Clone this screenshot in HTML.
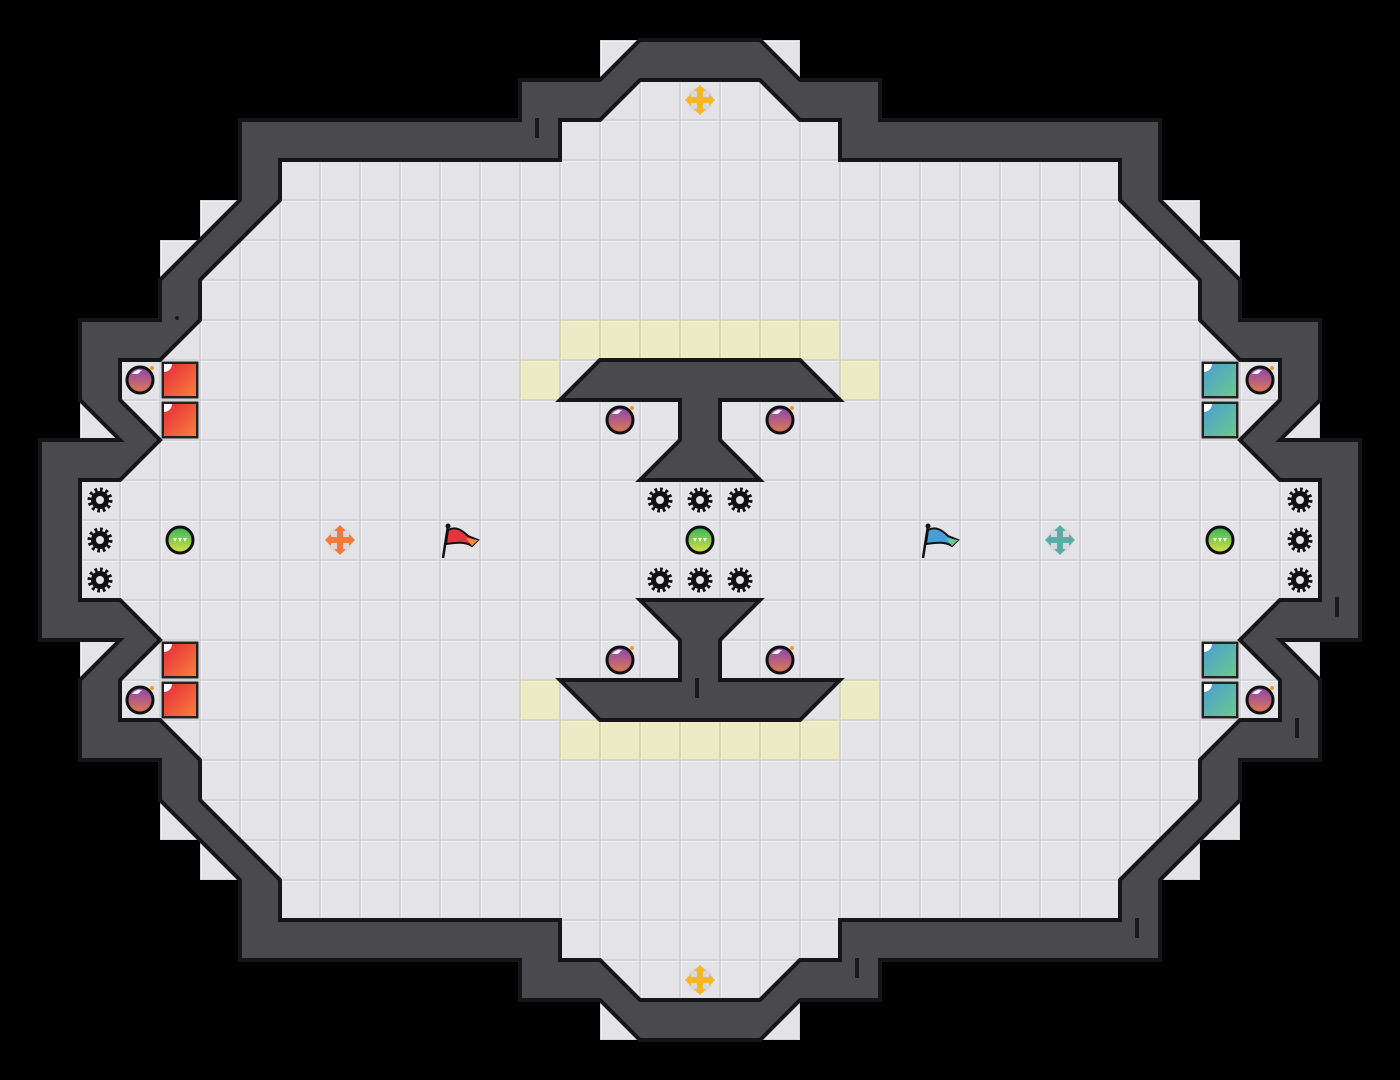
<!DOCTYPE html>
<html><head><meta charset="utf-8"><style>
html,body{margin:0;padding:0;background:#000;width:1400px;height:1080px;overflow:hidden}
svg{display:block}
</style></head><body>
<svg width="1400" height="1080" viewBox="0 0 1400 1080" xmlns="http://www.w3.org/2000/svg">
<defs>
<pattern id="tile" x="0" y="0" width="40" height="40" patternUnits="userSpaceOnUse">
<rect width="40" height="40" fill="#d2d2d7"/>
<rect x="1" y="1" width="38" height="38" fill="#f0f0f3"/>
<rect x="2" y="2" width="37" height="37" fill="#e4e4e8"/>
</pattern>
<pattern id="ytile" x="0" y="0" width="40" height="40" patternUnits="userSpaceOnUse">
<rect width="40" height="40" fill="#d8d6b0"/>
<rect x="1" y="1" width="38" height="38" fill="#f3f2d4"/>
<rect x="2" y="2" width="37" height="37" fill="#ecebc6"/>
</pattern>
<linearGradient id="gRed" x1="0" y1="0" x2="1" y2="1"><stop offset="0" stop-color="#e8283a"/><stop offset="1" stop-color="#f6823a"/></linearGradient>
<linearGradient id="gBlue" x1="0" y1="0" x2="1" y2="1"><stop offset="0" stop-color="#4a9ed6"/><stop offset="1" stop-color="#6cc88a"/></linearGradient>
<linearGradient id="gBomb" x1="0" y1="0" x2="0" y2="1"><stop offset="0" stop-color="#8a45b0"/><stop offset="1" stop-color="#e07a50"/></linearGradient>
<linearGradient id="gGreen" x1="0" y1="0" x2="0" y2="1"><stop offset="0" stop-color="#2cb85a"/><stop offset="1" stop-color="#e0e040"/></linearGradient>
<g id="gear">
<circle r="10" fill="none" stroke="#111" stroke-width="5" stroke-dasharray="2.6 2.6"/>
<circle r="9" fill="#111"/>
<circle r="4" fill="#e4e4e8"/>
</g>
<g id="bomb">
<circle r="13" fill="url(#gBomb)" stroke="#111" stroke-width="3"/>
<path d="M-8,-6 A9,9 0 0 1 2,-10 L-2,-6 Z" fill="#fff" opacity="0.9"/>
<circle cx="12" cy="-12" r="2" fill="#f39a2a"/>
</g>
<g id="ball">
<circle r="13" fill="url(#gGreen)" stroke="#111" stroke-width="3"/>
<path d="M-7,-2 L-3,-2 L-5,2 Z M-2,-2 L2,-2 L0,2 Z M3,-2 L7,-2 L5,2 Z" fill="#fff"/>
</g>
<g id="red">
<rect x="1.5" y="1.5" width="37" height="37" fill="#222"/>
<rect x="4" y="4" width="32" height="32" fill="url(#gRed)"/>
<path d="M4,4 L12,4 A8,8 0 0 1 4,12 Z" fill="#fff"/>
</g>
<g id="blue">
<rect x="1.5" y="1.5" width="37" height="37" fill="#222"/>
<rect x="4" y="4" width="32" height="32" fill="url(#gBlue)"/>
<path d="M4,4 L12,4 A8,8 0 0 1 4,12 Z" fill="#fff"/>
</g>
<g id="cross">
<circle r="13" fill="#d4d4da" opacity="0.8"/>
<path d="M-3,-9 L-3,-3 L-9,-3 L-9,-6 L-15,0 L-9,6 L-9,3 L-3,3 L-3,9 L-6,9 L0,15 L6,9 L3,9 L3,3 L9,3 L9,6 L15,0 L9,-6 L9,-3 L3,-3 L3,-9 L6,-9 L0,-15 L-6,-9 Z"/>
</g>
</defs>

<!-- floor -->
<path fill="url(#tile)" d="M700,40 L760,40 L800,80 L880,80 L880,120 L1160,120 L1160,200 L1240,280 L1240,320 L1320,320 L1320,400 L1280,440 L1360,440 L1360,640 L1280,640 L1320,680 L1320,760 L1240,760 L1240,800 L1160,880 L1160,960 L880,960 L880,1000 L800,1000 L760,1040 L640,1040 L600,1000 L520,1000 L520,960 L240,960 L240,880 L160,800 L160,760 L80,760 L80,680 L120,640 L40,640 L40,440 L120,440 L80,400 L80,320 L160,320 L160,280 L240,200 L240,120 L520,120 L520,80 L600,80 L640,40 Z"/>
<g fill="url(#tile)">
<rect x="600" y="40" width="40" height="40"/><rect x="760" y="40" width="40" height="40"/>
<rect x="600" y="1000" width="40" height="40"/><rect x="760" y="1000" width="40" height="40"/>
<rect x="1160" y="200" width="40" height="40"/><rect x="1200" y="240" width="40" height="40"/><rect x="1280" y="400" width="40" height="40"/>
<rect x="200" y="200" width="40" height="40"/><rect x="160" y="240" width="40" height="40"/><rect x="80" y="400" width="40" height="40"/>
<rect x="1160" y="840" width="40" height="40"/><rect x="1200" y="800" width="40" height="40"/><rect x="1280" y="640" width="40" height="40"/>
<rect x="200" y="840" width="40" height="40"/><rect x="160" y="800" width="40" height="40"/><rect x="80" y="640" width="40" height="40"/>
</g>
<!-- yellow tiles -->
<g fill="url(#ytile)">
<rect x="560" y="320" width="280" height="40"/><rect x="520" y="360" width="40" height="40"/><rect x="840" y="360" width="40" height="40"/>
<rect x="560" y="720" width="280" height="40"/><rect x="520" y="680" width="40" height="40"/><rect x="840" y="680" width="40" height="40"/>
</g>

<!-- walls -->
<path fill="#49494e" stroke="#161618" stroke-width="4" fill-rule="evenodd" stroke-linejoin="miter" d="
M700,40 L760,40 L800,80 L880,80 L880,120 L1160,120 L1160,200 L1240,280 L1240,320 L1320,320 L1320,400 L1280,440 L1360,440 L1360,640 L1280,640 L1320,680 L1320,760 L1240,760 L1240,800 L1160,880 L1160,960 L880,960 L880,1000 L800,1000 L760,1040 L640,1040 L600,1000 L520,1000 L520,960 L240,960 L240,880 L160,800 L160,760 L80,760 L80,680 L120,640 L40,640 L40,440 L120,440 L80,400 L80,320 L160,320 L160,280 L240,200 L240,120 L520,120 L520,80 L600,80 L640,40 Z
M700,80 L760,80 L800,120 L840,120 L840,160 L1120,160 L1120,200 L1200,280 L1200,320 L1240,360 L1280,360 L1280,400 L1240,440 L1280,480 L1320,480 L1320,600 L1280,600 L1240,640 L1280,680 L1280,720 L1240,720 L1200,760 L1200,800 L1120,880 L1120,920 L840,920 L840,960 L800,960 L760,1000 L640,1000 L600,960 L560,960 L560,920 L280,920 L280,880 L200,800 L200,760 L160,720 L120,720 L120,680 L160,640 L120,600 L80,600 L80,480 L120,480 L160,440 L120,400 L120,360 L160,360 L200,320 L200,280 L280,200 L280,160 L560,160 L560,120 L600,120 L640,80 Z"/>
<path fill="#49494e" stroke="#161618" stroke-width="4" stroke-linejoin="miter" d="M600,360 L800,360 L840,400 L720,400 L720,440 L760,480 L640,480 L680,440 L680,400 L560,400 Z"/>
<path fill="#49494e" stroke="#161618" stroke-width="4" stroke-linejoin="miter" d="M600,720 L800,720 L840,680 L720,680 L720,640 L760,600 L640,600 L680,640 L680,680 L560,680 Z"/>
<g stroke="#1a1a1c" stroke-width="4">
<line x1="537" y1="118" x2="537" y2="138"/><line x1="697" y1="678" x2="697" y2="698"/>
<line x1="1337" y1="597" x2="1337" y2="617"/><line x1="1297" y1="718" x2="1297" y2="738"/>
<line x1="1137" y1="918" x2="1137" y2="938"/><line x1="857" y1="958" x2="857" y2="978"/>
</g>
<circle cx="177" cy="318" r="2" fill="#1a1a1c"/>

<!-- blocks -->
<use href="#red" x="160" y="360"/><use href="#red" x="160" y="400"/><use href="#red" x="160" y="640"/><use href="#red" x="160" y="680"/>
<use href="#blue" x="1200" y="360"/><use href="#blue" x="1200" y="400"/><use href="#blue" x="1200" y="640"/><use href="#blue" x="1200" y="680"/>
<!-- bombs -->
<use href="#bomb" x="140" y="380"/><use href="#bomb" x="140" y="700"/><use href="#bomb" x="1260" y="380"/><use href="#bomb" x="1260" y="700"/>
<use href="#bomb" x="620" y="420"/><use href="#bomb" x="780" y="420"/><use href="#bomb" x="620" y="660"/><use href="#bomb" x="780" y="660"/>
<!-- gears -->
<use href="#gear" x="100" y="500"/><use href="#gear" x="100" y="540"/><use href="#gear" x="100" y="580"/>
<use href="#gear" x="1300" y="500"/><use href="#gear" x="1300" y="540"/><use href="#gear" x="1300" y="580"/>
<use href="#gear" x="660" y="500"/><use href="#gear" x="700" y="500"/><use href="#gear" x="740" y="500"/>
<use href="#gear" x="660" y="580"/><use href="#gear" x="700" y="580"/><use href="#gear" x="740" y="580"/>
<!-- balls -->
<use href="#ball" x="180" y="540"/><use href="#ball" x="700" y="540"/><use href="#ball" x="1220" y="540"/>
<!-- crosses -->
<use href="#cross" x="340" y="540" fill="#f47a3a"/>
<use href="#cross" x="1060" y="540" fill="#5aaea8"/>
<use href="#cross" x="700" y="100" fill="#f6b722"/>
<use href="#cross" x="700" y="980" fill="#f6b722"/>
<!-- flags -->
<g transform="translate(442,524)">
<line x1="6" y1="2" x2="1" y2="34" stroke="#111" stroke-width="2.5"/>
<circle cx="6" cy="2" r="2.5" fill="#111"/>
<path d="M6,6 C14,2 20,6 26,12 L36,16 L30,22 C24,18 16,18 4,20 Z" fill="#e8333a" stroke="#111" stroke-width="2"/>
<path d="M24,14 L36,16 L30,22 Z" fill="#f28a3a"/>
</g>
<g transform="translate(922,524)">
<line x1="6" y1="2" x2="1" y2="34" stroke="#111" stroke-width="2.5"/>
<circle cx="6" cy="2" r="2.5" fill="#111"/>
<path d="M6,6 C14,2 20,6 26,12 L36,16 L30,22 C24,18 16,18 4,20 Z" fill="#4a9ed6" stroke="#111" stroke-width="2"/>
<path d="M24,14 L36,16 L30,22 Z" fill="#6cc88a"/>
</g>
</svg>
</body></html>
